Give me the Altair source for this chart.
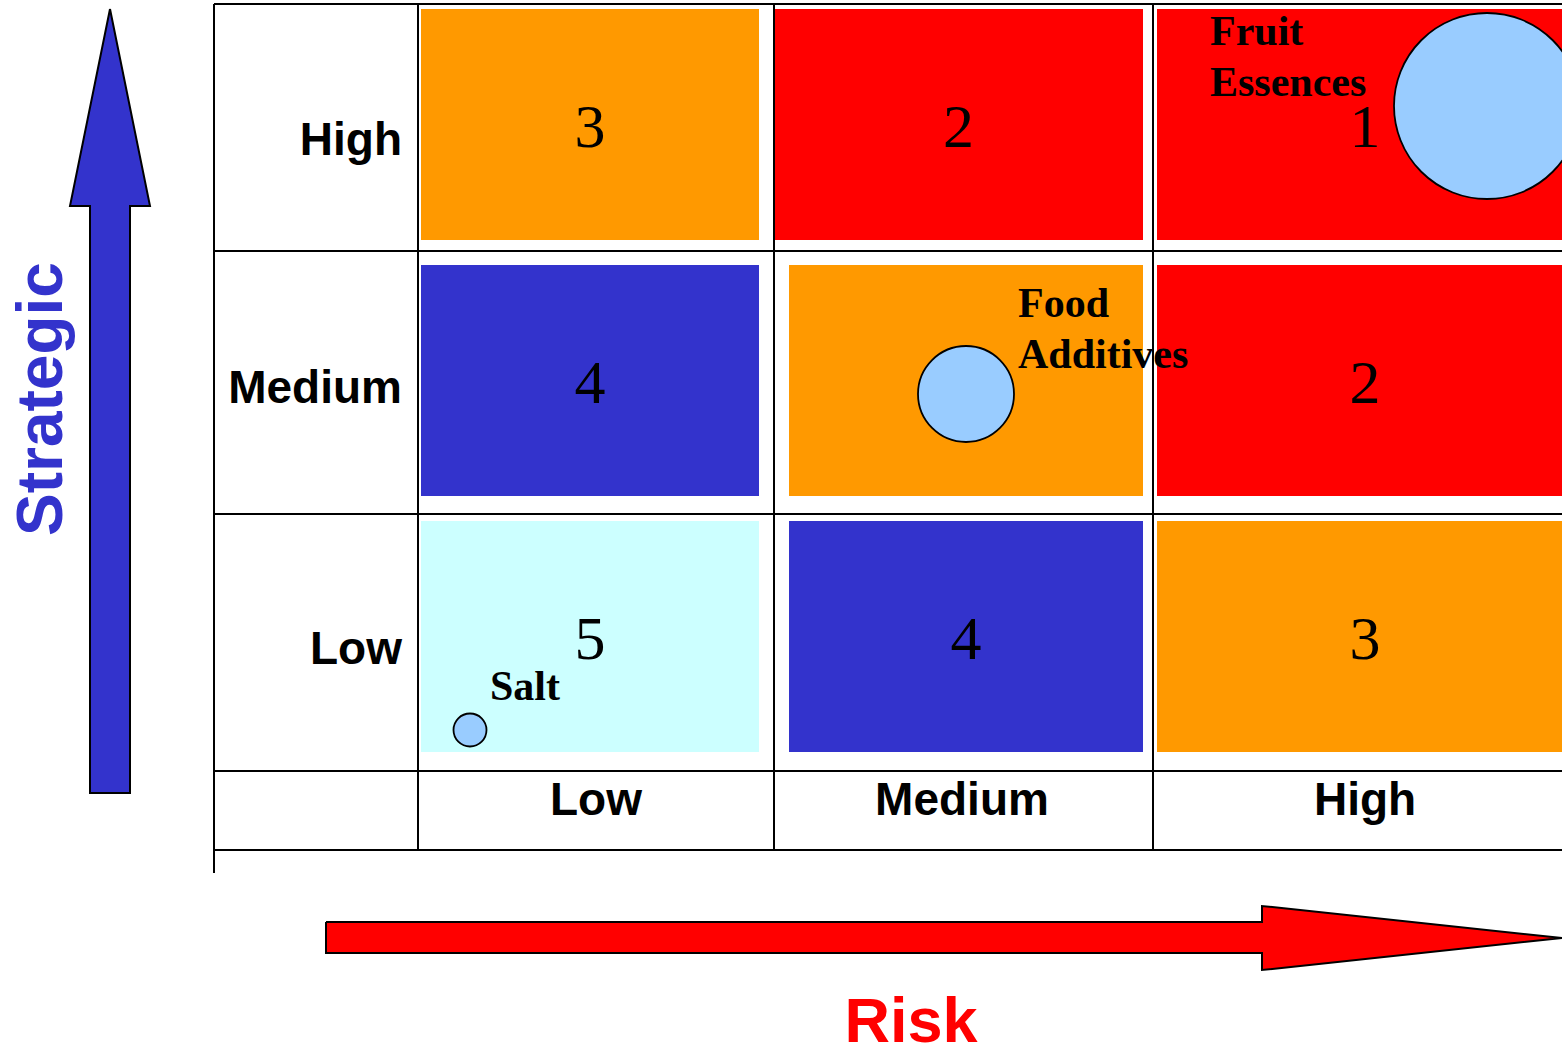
import altair as alt
import pandas as pd

# ---------------- data ----------------
strategic_levels = ["High", "Medium", "Low"]
risk_levels = ["Low", "Medium", "High"]
priority = [
    [3, 2, 1],   # High strategic
    [4, 3, 2],   # Medium strategic
    [5, 4, 3],   # Low strategic
]
priority_colors = {1: "#FF0000", 2: "#FF0000", 3: "#FF9900", 4: "#3333CC", 5: "#CCFFFF"}

items = ["Fruit\nEssences", "Food\nAdditives", "Salt"]
item_strategic = ["High", "Medium", "Low"]
item_risk = ["High", "Medium", "Low"]
item_radius = [93, 48, 16.5]

axis_x_title = "Risk"
axis_y_title = "Strategic"

# ---------------- layout (pixels) ----------------
W, H = 1562, 1046
col_rect = {"Low": (421, 759), "Medium": (789, 1143), "High": (1157, 1573)}
col_rect_override = {("High", "Medium"): (774, 1143)}
row_rect = {"High": (9, 240), "Medium": (265, 496), "Low": (521, 752)}
row_label_baseline = {"High": 155, "Medium": 403, "Low": 664}
row_label_right = 402
col_label_center = {"Low": 596, "Medium": 962, "High": 1365}
col_label_baseline = 815
item_pos = {"Fruit\nEssences": (1487, 106), "Food\nAdditives": (966, 394), "Salt": (470, 730)}
item_label_pos = {"Fruit\nEssences": (1210, 45), "Food\nAdditives": (1018, 317), "Salt": (490, 700)}

grid_h = [(214, W, y) for y in (4, 251, 514, 771, 850)]
grid_v = [(214, 4, 873)] + [(x, 4, 850) for x in (418, 774, 1153)]

blue_arrow = [(110, 9), (150, 206), (130, 206), (130, 793), (90, 793), (90, 206), (70, 206), (110, 9)]
red_arrow = [(326, 922), (1262, 922), (1262, 906), (1562, 938), (1262, 970), (1262, 953), (326, 953), (326, 922)]

# ---------------- tables ----------------
cells = []
for i, s in enumerate(strategic_levels):
    for j, r in enumerate(risk_levels):
        x0, x1 = col_rect_override.get((s, r), col_rect[r])
        y0, y1 = row_rect[s]
        p = priority[i][j]
        cells.append(dict(x=x0, x2=x1, y=y0, y2=y1, cx=(x0 + x1) / 2, ty=(y0 + y1) / 2 + 22,
                          p=p, label=str(p), color=priority_colors[p]))
cells = pd.DataFrame(cells)

rules = pd.DataFrame(
    [dict(x=a, x2=b, y=y, y2=y) for a, b, y in grid_h] +
    [dict(x=x, x2=x, y=a, y2=b) for x, a, b in grid_v]
)

row_labels = pd.DataFrame([dict(x=row_label_right, y=row_label_baseline[s], t=s) for s in strategic_levels])
col_labels = pd.DataFrame([dict(x=col_label_center[r], y=col_label_baseline, t=r) for r in risk_levels])

bubbles = pd.DataFrame([dict(x=item_pos[n][0], y=item_pos[n][1], s=(2 * rad) ** 2, n=n)
                        for n, rad in zip(items, item_radius)])
bubble_labels = pd.DataFrame([dict(x=item_label_pos[n][0], y=item_label_pos[n][1], t=n) for n in items])

arrows = pd.DataFrame(
    [dict(x=x, y=y, o=k, a="blue") for k, (x, y) in enumerate(blue_arrow)] +
    [dict(x=x, y=y, o=k, a="red") for k, (x, y) in enumerate(red_arrow)]
)

titles = pd.DataFrame([
    dict(x=911, y=1042, t=axis_x_title, c="#FF0000", ang=0),
    dict(x=62, y=399, t=axis_y_title, c="#3333CC", ang=270),
])

# ---------------- chart ----------------
xs = alt.Scale(domain=[0, W], nice=False, zero=False)
ys = alt.Scale(domain=[0, H], nice=False, zero=False, reverse=True)
X = lambda f="x": alt.X(f + ":Q", scale=xs, axis=None)
Y = lambda f="y": alt.Y(f + ":Q", scale=ys, axis=None)

rect_layer = alt.Chart(cells).mark_rect(clip=True).encode(
    x=X(), x2="x2:Q", y=Y(), y2="y2:Q", color=alt.Color("color:N", scale=None))

num_layer = alt.Chart(cells).mark_text(
    font="Liberation Serif", fontSize=62, baseline="alphabetic", align="center", color="black"
).encode(x=X("cx"), y=Y("ty"), text="label:N")

rule_layer = alt.Chart(rules).mark_rule(color="black", strokeWidth=2, clip=True).encode(
    x=X(), x2="x2:Q", y=Y(), y2="y2:Q")

row_lab = alt.Chart(row_labels).mark_text(
    font="Liberation Sans", fontSize=46, fontWeight="bold", align="right", baseline="alphabetic", color="black"
).encode(x=X(), y=Y(), text="t:N")

col_lab = alt.Chart(col_labels).mark_text(
    font="Liberation Sans", fontSize=46, fontWeight="bold", align="center", baseline="alphabetic", color="black"
).encode(x=X(), y=Y(), text="t:N")

bubble_layer = alt.Chart(bubbles).mark_point(
    shape="circle", filled=True, fill="#99CCFF", stroke="black", strokeWidth=1.8, opacity=1, clip=True
).encode(x=X(), y=Y(), size=alt.Size("s:Q", scale=None, legend=None))

bubble_text = alt.Chart(bubble_labels).mark_text(
    font="Liberation Serif", fontSize=42, fontWeight="bold", align="left", baseline="alphabetic",
    color="black", lineBreak="\n", lineHeight=51
).encode(x=X(), y=Y(), text="t:N")

arrow_layer = alt.Chart(arrows).mark_line(stroke="black", strokeWidth=2, strokeJoin="miter").encode(
    x=X(), y=Y(), order="o:Q", detail="a:N",
    fill=alt.Fill("a:N", scale=alt.Scale(domain=["blue", "red"], range=["#3333CC", "#FF0000"]), legend=None))

title_x = alt.Chart(titles[titles.ang == 0]).mark_text(
    font="Liberation Sans", fontSize=63, fontWeight="bold", align="center", baseline="alphabetic", color="#FF0000"
).encode(x=X(), y=Y(), text="t:N")

title_y = alt.Chart(titles[titles.ang == 270]).mark_text(
    font="Liberation Sans", fontSize=64, fontWeight="bold", align="center", baseline="alphabetic",
    color="#3333CC", angle=270
).encode(x=X(), y=Y(), text="t:N")

chart = alt.layer(
    rect_layer, num_layer, rule_layer, row_lab, col_lab, bubble_layer, bubble_text,
    arrow_layer, title_x, title_y
).properties(width=W, height=H, padding=0, autosize="none", background="white").configure_view(stroke=None)

chart.save("out.html", embed_options={"renderer": "svg", "actions": False})
